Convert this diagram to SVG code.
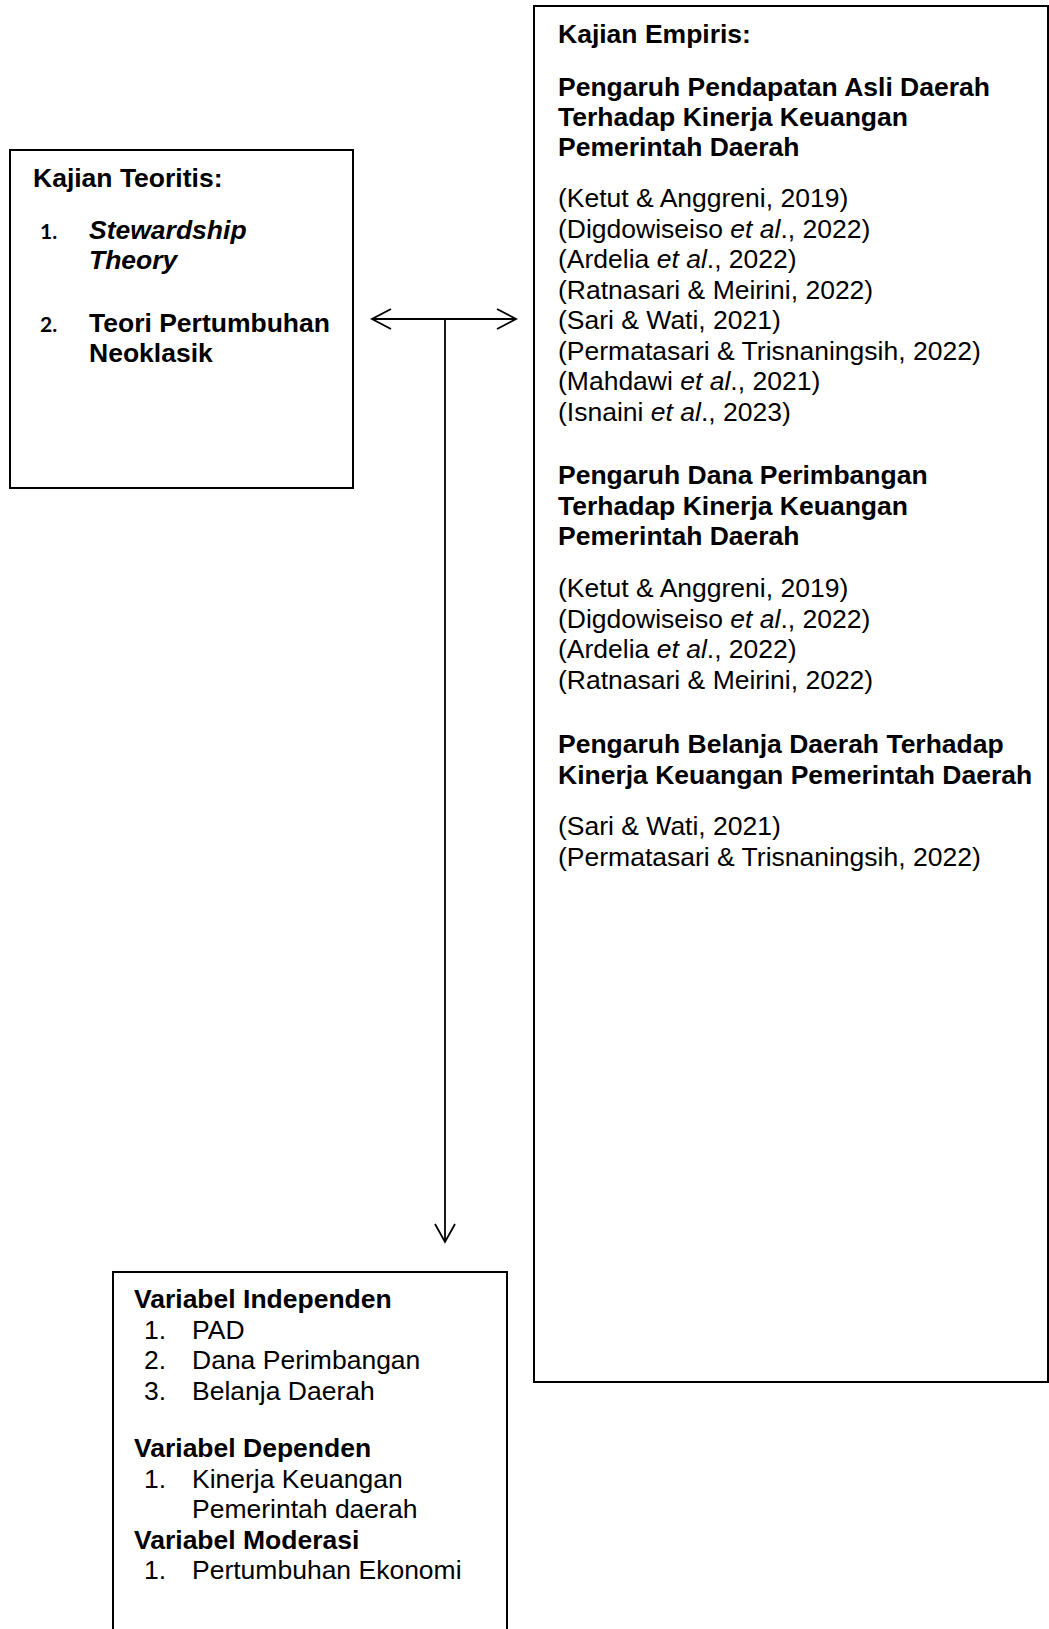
<svg xmlns="http://www.w3.org/2000/svg" width="1049" height="1629" viewBox="0 0 1049 1629">
<style>
.box{fill:#fff;stroke:#000;stroke-width:2}
text{font-family:"Liberation Sans",Arial,sans-serif;font-size:26.5px;fill:#000}
.b{font-weight:bold}
.i{font-style:italic}
.num{font-family:Lato,"Liberation Sans",sans-serif;font-weight:bold;font-size:21px}
.con{fill:none;stroke:#000;stroke-width:1.8}
</style>
<rect width="1049" height="1629" fill="#fff"/>
<g id="kajian-teoritis">
<rect class="box" x="10" y="150" width="343" height="338"/>
<text class="b" x="33" y="187">Kajian Teoritis:</text>
<text class="num" x="40" y="239">1.</text>
<text class="b i" x="89" y="239">Stewardship</text>
<text class="b i" x="89" y="269">Theory</text>
<text class="num" x="40" y="332">2.</text>
<text class="b" x="89" y="332">Teori Pertumbuhan</text>
<text class="b" x="89" y="362">Neoklasik</text>
</g>
<g id="kajian-empiris">
<rect class="box" x="534" y="6" width="514" height="1376"/>
<text class="b" x="558" y="43">Kajian Empiris:</text>
<text class="b" x="558" y="96">Pengaruh Pendapatan Asli Daerah</text>
<text class="b" x="558" y="126">Terhadap Kinerja Keuangan</text>
<text class="b" x="558" y="156">Pemerintah Daerah</text>
<text x="558" y="207">(Ketut &amp; Anggreni, 2019)</text>
<text x="558" y="237.5">(Digdowiseiso <tspan class="i">et al</tspan>., 2022)</text>
<text x="558" y="268">(Ardelia <tspan class="i">et al</tspan>., 2022)</text>
<text x="558" y="298.5">(Ratnasari &amp; Meirini, 2022)</text>
<text x="558" y="329">(Sari &amp; Wati, 2021)</text>
<text x="558" y="359.5">(Permatasari &amp; Trisnaningsih, 2022)</text>
<text x="558" y="390">(Mahdawi <tspan class="i">et al</tspan>., 2021)</text>
<text x="558" y="420.5">(Isnaini <tspan class="i">et al</tspan>., 2023)</text>
<text class="b" x="558" y="484">Pengaruh Dana Perimbangan</text>
<text class="b" x="558" y="514.5">Terhadap Kinerja Keuangan</text>
<text class="b" x="558" y="545">Pemerintah Daerah</text>
<text x="558" y="597">(Ketut &amp; Anggreni, 2019)</text>
<text x="558" y="627.5">(Digdowiseiso <tspan class="i">et al</tspan>., 2022)</text>
<text x="558" y="658">(Ardelia <tspan class="i">et al</tspan>., 2022)</text>
<text x="558" y="688.5">(Ratnasari &amp; Meirini, 2022)</text>
<text class="b" x="558" y="753">Pengaruh Belanja Daerah Terhadap</text>
<text class="b" x="558" y="783.5">Kinerja Keuangan Pemerintah Daerah</text>
<text x="558" y="835">(Sari &amp; Wati, 2021)</text>
<text x="558" y="865.5">(Permatasari &amp; Trisnaningsih, 2022)</text>
</g>
<g id="variabel">
<rect class="box" x="113" y="1272" width="394" height="380"/>
<text class="b" x="134" y="1308">Variabel Independen</text>
<text x="144" y="1338.5">1.</text><text x="192" y="1338.5">PAD</text>
<text x="144" y="1369">2.</text><text x="192" y="1369">Dana Perimbangan</text>
<text x="144" y="1399.5">3.</text><text x="192" y="1399.5">Belanja Daerah</text>
<text class="b" x="134" y="1457">Variabel Dependen</text>
<text x="144" y="1487.5">1.</text><text x="192" y="1487.5">Kinerja Keuangan</text>
<text x="192" y="1518">Pemerintah daerah</text>
<text class="b" x="134" y="1548.5">Variabel Moderasi</text>
<text x="144" y="1579">1.</text><text x="192" y="1579">Pertumbuhan Ekonomi</text>
</g>
<g id="connectors">
<line class="con" x1="372" y1="319" x2="516" y2="319"/>
<polyline class="con" points="391,309 372,319 391,329"/>
<polyline class="con" points="497,309 516,319 497,329"/>
<line class="con" x1="445" y1="319" x2="445" y2="1242"/>
<polyline class="con" points="435,1224 445,1242 455,1224"/>
</g>
</svg>
